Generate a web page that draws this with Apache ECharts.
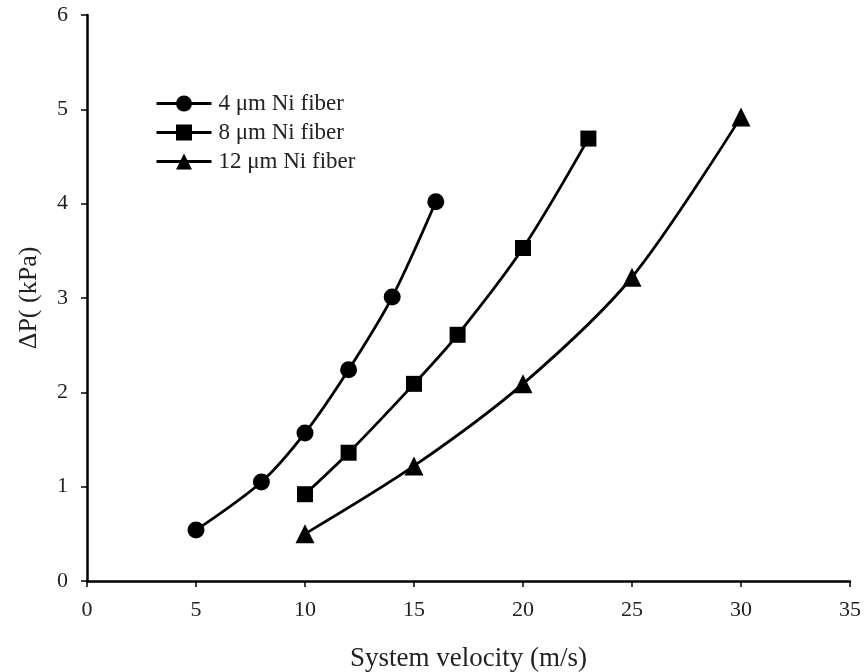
<!DOCTYPE html>
<html>
<head>
<meta charset="utf-8">
<script src="https://cdn.jsdelivr.net/npm/echarts@6/dist/echarts.min.js"></script>
<style>
  html, body { margin: 0; padding: 0; background: #fff; }
  #chart { width: 865px; height: 672px; }
</style>
</head>
<body>
<div id="chart"></div>
<script>
// Pressure drop vs. system velocity for three Ni fiber diameters
const seriesNames = ['4 \u03bcm Ni fiber', '8 \u03bcm Ni fiber', '12 \u03bcm Ni fiber'];
const velocity4 = [5, 8, 10, 12, 14, 16];
const dp4 = [0.54, 1.05, 1.57, 2.24, 3.01, 4.02];
const velocity8 = [10, 12, 15, 17, 20, 23];
const dp8 = [0.92, 1.36, 2.09, 2.61, 3.53, 4.69];
const velocity12 = [10, 15, 20, 25, 30];
const dp12 = [0.50, 1.22, 2.09, 3.22, 4.92];
const xTicks = [0, 5, 10, 15, 20, 25, 30, 35];
const yTicks = [0, 1, 2, 3, 4, 5, 6];

const font = 'Liberation Serif';
const pairs = (xs, ys) => xs.map((x, i) => [x, ys[i]]);

const chart = echarts.init(document.getElementById('chart'));
const mkSeries = (name, data, symbol, size) => ({
  name: name,
  type: 'line',
  data: data,
  smooth: 0.3,
  symbol: symbol,
  symbolSize: size,
  lineStyle: { color: '#000', width: 2.8 },
  itemStyle: { color: '#000' },
  emphasis: { disabled: true }
});

chart.setOption({
  animation: false,
  backgroundColor: '#fff',
  grid: { left: 87, right: 15, top: 15, bottom: 91, outerBoundsMode: 'none', containLabel: false },
  legend: {
    orient: 'vertical',
    left: 150,
    top: 87,
    itemWidth: 55,
    itemHeight: 20,
    itemGap: 6,
    lineStyle: { width: 3, color: '#000' },
    textStyle: { fontFamily: font, fontSize: 23, color: '#222', padding: [0, 0, 0, 2] },
    data: seriesNames
  },
  xAxis: {
    type: 'value',
    min: xTicks[0],
    max: xTicks[xTicks.length - 1],
    interval: 5,
    name: 'System velocity (m/s)',
    nameLocation: 'middle',
    nameGap: 64,
    nameTextStyle: { fontFamily: font, fontSize: 27, color: '#222' },
    axisLine: { lineStyle: { color: '#000', width: 2.5 } },
    axisTick: { show: true, length: 6, lineStyle: { color: '#000', width: 1.5 } },
    axisLabel: { fontFamily: font, fontSize: 22, color: '#222', margin: 18 },
    splitLine: { show: false }
  },
  yAxis: {
    type: 'value',
    min: yTicks[0],
    max: yTicks[yTicks.length - 1],
    interval: 1,
    name: '\u0394P( (kPa)',
    nameLocation: 'middle',
    nameGap: 45,
    nameTextStyle: { fontFamily: font, fontSize: 26, color: '#222' },
    axisLine: { show: true, lineStyle: { color: '#000', width: 2.5 } },
    axisTick: { show: true, length: 6, lineStyle: { color: '#000', width: 1.5 } },
    axisLabel: { fontFamily: font, fontSize: 22, color: '#222', margin: 19 },
    splitLine: { show: false }
  },
  series: [
    mkSeries(seriesNames[0], pairs(velocity4, dp4), 'circle', 17),
    mkSeries(seriesNames[1], pairs(velocity8, dp8), 'rect', 16),
    mkSeries(seriesNames[2], pairs(velocity12, dp12), 'triangle', 19)
  ]
});
</script>
</body>
</html>
